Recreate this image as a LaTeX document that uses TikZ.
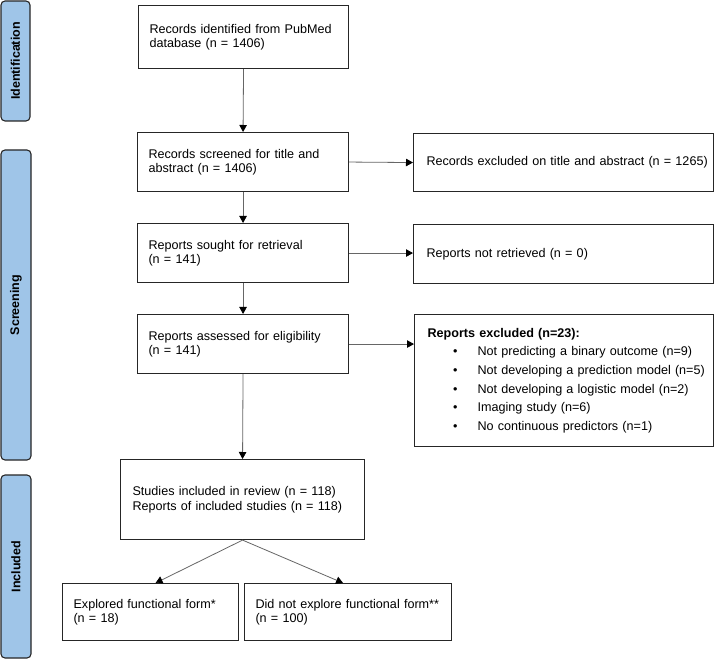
\documentclass[tikz,border=0pt]{standalone}
\usepackage{fontspec}
\setmainfont{Liberation Sans}
\usetikzlibrary{arrows.meta,calc}
\definecolor{sideblue}{RGB}{159,197,232}
\newcommand{\bitem}[1]{\mbox{\makebox[50pt][l]{\hspace{25.5pt}•}#1}}
\begin{document}
\begin{tikzpicture}[x=1pt,y=-1pt,
  box/.style={draw=black!85, line width=1.1pt, inner xsep=11pt, inner ysep=0pt, align=left, anchor=north west,
    font=\fontsize{12.6}{14.5}\selectfont},
  side/.style={draw=black!85, fill=sideblue, line width=1.1pt, rounded corners=4pt, rotate=90,
    inner sep=0pt, font=\fontsize{12.5}{14}\selectfont\bfseries},
  arr/.style={draw=black!60, line width=0.8pt, -{Triangle[length=7pt,width=7.5pt,color=black]}}]
\useasboundingbox[fill=white] (0,0) rectangle (715,660);

% side labels
\node[side, minimum width=120, minimum height=29] (sid) at (15.5,61) {Identification};
\node[side, minimum width=310, minimum height=30] (ssc) at (16,305) {Screening};
\node[side, minimum width=183, minimum height=30] (sin) at (16,566.5) {Included};

% main column
\node[box, minimum width=210, minimum height=63, text width=188] (b1) at (138,5)
  {Records identified from PubMed\\database (n = 1406)};
\node[box, minimum width=211, minimum height=59, text width=189] (b2) at (137,132)
  {Records screened for title and\\abstract (n = 1406)};
\node[box, minimum width=211, minimum height=59, text width=189] (b3) at (137,223)
  {Reports sought for retrieval\\(n = 141)};
\node[box, minimum width=211, minimum height=59, text width=189] (b4) at (137,314)
  {Reports assessed for eligibility\\(n = 141)};

% right column
\node[box, inner xsep=13pt, minimum width=300, minimum height=58, text width=274] (e1) at (413,133)
  {\mbox{Records excluded on title and abstract (n = 1265)}};
\node[box, inner xsep=13pt, minimum width=300, minimum height=59, text width=274] (e2) at (413,224)
  {Reports not retrieved (n = 0)};
\node[box, inner xsep=13pt, minimum width=299, minimum height=132, text width=273,
  font=\fontsize{12.6}{18.6}\selectfont] (e3) at (414,314)
  {\textbf{Reports excluded (n=23):}\\
   \bitem{Not predicting a binary outcome (n=9)}\\
   \bitem{Not developing a prediction model (n=5)}\\
   \bitem{Not developing a logistic model (n=2)}\\
   \bitem{Imaging study (n=6)}\\
   \bitem{No continuous predictors (n=1)}};

% included
\node[box, inner xsep=12pt, minimum width=244, minimum height=80, text width=220] (inc) at (120,459)
  {Studies included in review (n = 118)\\Reports of included studies (n = 118)};
\node[box, minimum width=176, minimum height=57, text width=154] (bl) at (62,583)
  {Explored functional form*\\(n = 18)};
\node[box, minimum width=207, minimum height=57, text width=185] (br) at (244,583)
  {\mbox{Did not explore functional form**}\\(n = 100)};

% connectors
\draw[arr] (b1.south) -- (b2.north);
\draw[arr] (b2.south) -- (b3.north);
\draw[arr] (b3.south) -- (b4.north);
\draw[arr] (b4.south) -- (inc.north);
\draw[arr] (b2.east) -- (e1.west);
\draw[arr] (b3.east) -- (b3.east -| e2.west);
\draw[arr] (b4.east) -- (b4.east -| e3.west);
\draw[arr] (inc.south) -- ($(bl.north)+(5,0)$);
\draw[arr] (inc.south) -- ($(br.north)+(-5,0)$);
\end{tikzpicture}
\end{document}
